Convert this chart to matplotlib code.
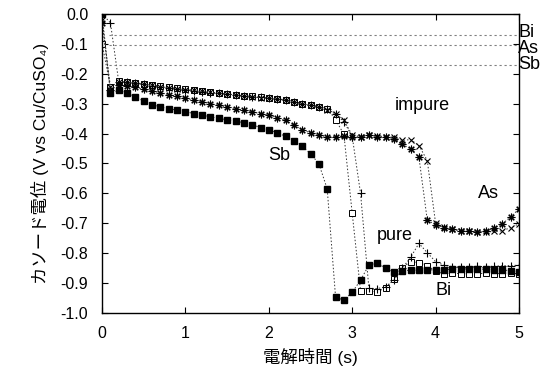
import matplotlib
matplotlib.use('Agg')
import matplotlib.pyplot as plt

plt.rcParams['font.family'] = ['Liberation Sans', 'Noto Sans CJK JP']
plt.rcParams['axes.unicode_minus'] = False

time = [0.0, 0.1, 0.2, 0.3, 0.4, 0.5, 0.6, 0.7, 0.8, 0.9,
        1.0, 1.1, 1.2, 1.3, 1.4, 1.5, 1.6, 1.7, 1.8, 1.9,
        2.0, 2.1, 2.2, 2.3, 2.4, 2.5, 2.6, 2.7, 2.8, 2.9,
        3.0, 3.1, 3.2, 3.3, 3.4, 3.5, 3.6, 3.7, 3.8, 3.9,
        4.0, 4.1, 4.2, 4.3, 4.4, 4.5, 4.6, 4.7, 4.8, 4.9, 5.0]

# filled squares (Sb)
v_sb = [0.0, -0.265, -0.255, -0.264, -0.277, -0.292, -0.303, -0.311, -0.317, -0.322,
        -0.327, -0.333, -0.338, -0.344, -0.349, -0.354, -0.358, -0.364, -0.370, -0.380,
        -0.388, -0.397, -0.409, -0.424, -0.443, -0.467, -0.501, -0.585, -0.946, -0.957,
        -0.930, -0.890, -0.839, -0.833, -0.850, -0.862, -0.858, -0.857, -0.856, -0.856,
        -0.855, -0.855, -0.853, -0.853, -0.852, -0.853, -0.853, -0.855, -0.856, -0.858, -0.862]

# open squares
v_open = [-0.100, -0.245, -0.225, -0.227, -0.230, -0.234, -0.238, -0.242, -0.246, -0.249,
          -0.252, -0.256, -0.259, -0.262, -0.265, -0.268, -0.270, -0.273, -0.276, -0.279,
          -0.281, -0.284, -0.287, -0.293, -0.300, -0.305, -0.311, -0.317, -0.353, -0.403,
          -0.667, -0.926, -0.925, -0.930, -0.915, -0.887, -0.848, -0.828, -0.831, -0.842,
          -0.860, -0.868, -0.867, -0.868, -0.869, -0.868, -0.867, -0.868, -0.868, -0.867, -0.868]

# plus
v_plus = [0.0, -0.030, -0.228, -0.229, -0.232, -0.236, -0.240, -0.243, -0.247, -0.250,
          -0.253, -0.257, -0.260, -0.263, -0.266, -0.268, -0.271, -0.274, -0.277, -0.279,
          -0.282, -0.285, -0.288, -0.294, -0.301, -0.306, -0.312, -0.318, -0.335, -0.360,
          -0.410, -0.600, -0.917, -0.918, -0.912, -0.890, -0.850, -0.814, -0.767, -0.798,
          -0.828, -0.840, -0.845, -0.846, -0.845, -0.844, -0.845, -0.843, -0.842, -0.841, -0.840]

# crosses
v_cross = [-0.020, -0.245, -0.226, -0.228, -0.231, -0.235, -0.239, -0.243, -0.247, -0.250,
           -0.253, -0.256, -0.259, -0.262, -0.265, -0.268, -0.271, -0.274, -0.277, -0.280,
           -0.282, -0.285, -0.288, -0.295, -0.301, -0.306, -0.312, -0.320, -0.333, -0.356,
           -0.405, -0.410, -0.405, -0.408, -0.410, -0.413, -0.423, -0.420, -0.440, -0.490,
           -0.700, -0.712, -0.720, -0.725, -0.727, -0.728, -0.729, -0.727, -0.725, -0.714, -0.702]

# asterisks (As)
v_star = [-0.030, -0.255, -0.237, -0.241, -0.246, -0.252, -0.258, -0.264, -0.270, -0.276,
          -0.282, -0.288, -0.294, -0.300, -0.306, -0.311, -0.317, -0.322, -0.328, -0.333,
          -0.339, -0.347, -0.356, -0.372, -0.387, -0.398, -0.406, -0.410, -0.410, -0.408,
          -0.410, -0.412, -0.406, -0.410, -0.412, -0.417, -0.436, -0.451, -0.479, -0.689,
          -0.705, -0.714, -0.720, -0.724, -0.726, -0.728, -0.727, -0.716, -0.702, -0.678, -0.652]

ref_names = ['Bi', 'As', 'Sb']
ref_levels = [-0.07, -0.105, -0.17]
ref_label_y = [-0.063, -0.115, -0.17]

fig = plt.figure(figsize=(5.46, 3.75), dpi=100)
ax = fig.add_axes([0.187, 0.165, 0.7635, 0.798])

line_kw = dict(color='#333333', lw=0.7, ls=(0, (1.5, 2)))
ax.plot(time, v_open, marker='s', ms=4, mfc='white', mec='black', mew=0.7, **line_kw)
ax.plot(time, v_plus, marker='+', ms=5.5, mec='black', mew=0.8, **line_kw)
ax.plot(time, v_cross, marker='x', ms=4.5, mec='black', mew=0.8, **line_kw)
ax.plot(time, v_star, marker=(8, 2, 0), ms=5.5, mec='black', mew=0.8, **line_kw)
ax.plot(time, v_sb, marker='s', ms=4.2, mfc='black', mec='black', **line_kw)

for name, lev, ly in zip(ref_names, ref_levels, ref_label_y):
    ax.plot([0.08, 5.0], [lev, lev], color='gray', lw=0.8, ls=(0, (2, 2.5)))
    ax.text(4.99, ly, name, fontsize=13, ha='left', va='center', clip_on=False)

ax.text(3.84, -0.305, 'impure', fontsize=13, ha='center', va='center')
ax.text(2.13, -0.473, 'Sb', fontsize=13, ha='center', va='center')
ax.text(4.63, -0.60, 'As', fontsize=13, ha='center', va='center')
ax.text(3.51, -0.74, 'pure', fontsize=13, ha='center', va='center')
ax.text(4.1, -0.926, 'Bi', fontsize=13, ha='center', va='center')

ax.set_xlim(0, 5)
ax.set_ylim(-1.0, 0.0)
ax.set_xticks([0, 1, 2, 3, 4, 5])
ax.set_yticks([0.0, -0.1, -0.2, -0.3, -0.4, -0.5, -0.6, -0.7, -0.8, -0.9, -1.0])
ax.set_yticklabels(['0.0', '-0.1', '-0.2', '-0.3', '-0.4', '-0.5', '-0.6', '-0.7', '-0.8', '-0.9', '-1.0'])
ax.tick_params(direction='in', top=True, right=True, length=4, width=0.8, labelsize=11.5)
ax.tick_params(axis='y', pad=10)
ax.tick_params(axis='x', pad=9)
for sp in ax.spines.values():
    sp.set_linewidth(1.0)

ax.set_xlabel('電解時間 (s)', fontsize=12.5, labelpad=5)
ax.set_ylabel('カソード電位 (V vs Cu/CuSO₄)', fontsize=12.5, labelpad=8)

fig.savefig('out.png', dpi=100)
